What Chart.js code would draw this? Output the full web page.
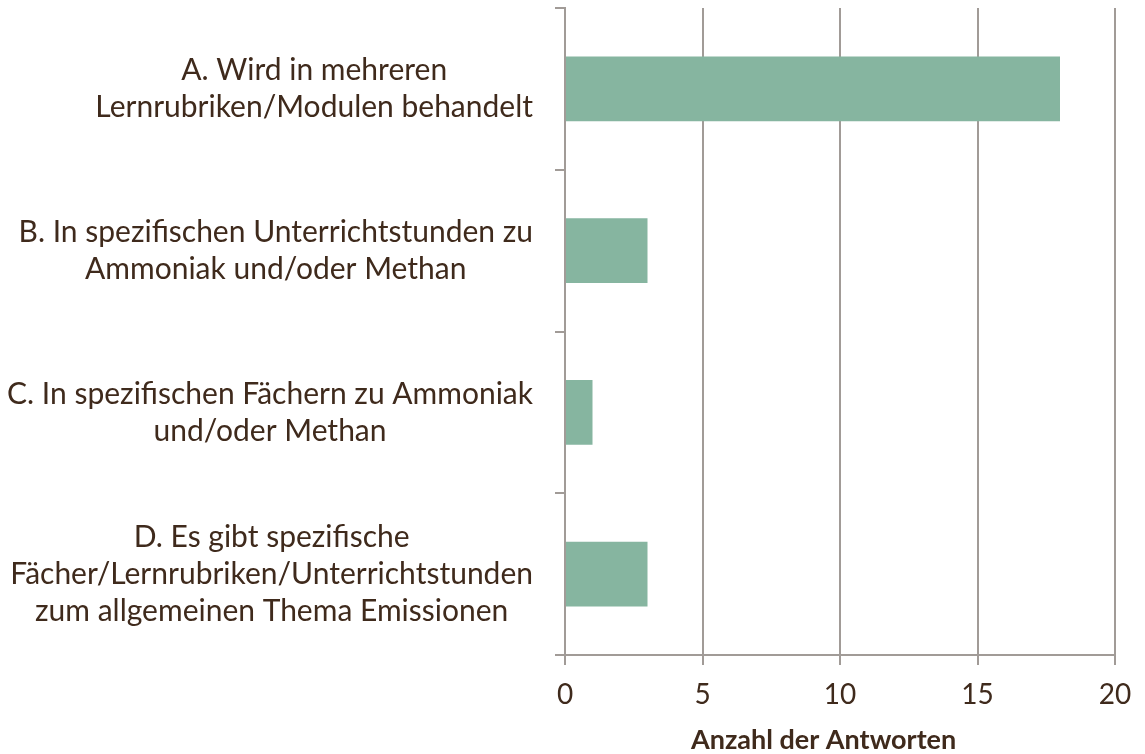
<!DOCTYPE html>
<html><head><meta charset="utf-8">
<script src="https://cdn.jsdelivr.net/npm/chart.js@4/dist/chart.umd.min.js"></script>
<style>html,body{margin:0;padding:0;background:#fff;}#wrap{width:1145px;height:754px;}</style>
</head><body><div id="wrap"><canvas id="c" width="1145" height="754"></canvas></div>
<script>
const categories = [
  ["A. Wird in mehreren", "Lernrubriken/Modulen behandelt"],
  ["B. In spezifischen Unterrichtstunden zu", "Ammoniak und/oder Methan"],
  ["C. In spezifischen Fächern zu Ammoniak", "und/oder Methan"],
  ["D. Es gibt spezifische", "Fächer/Lernrubriken/Unterrichtstunden", "zum allgemeinen Thema Emissionen"]
];
const answers = [18, 3, 1, 3];
const axisTitle = "Anzahl der Antworten";
const xTicks = [0, 5, 10, 15, 20];

const TEXT = '#3f2a1c';
const GRID = '#a19b97';
const FONT = 'Lato';

const labelPlugin = {
  id: 'catLabels',
  afterDraw(chart) {
    const ctx = chart.ctx;
    const ys = chart.scales.y;
    ctx.save();
    ctx.font = '30px ' + FONT;
    ctx.fillStyle = TEXT;
    ctx.textAlign = 'center';
    ctx.textBaseline = 'middle';
    const lh = 37;
    const rightEdge = ys.right - 32;
    chart.data.labels.forEach((lines, i) => {
      const cy = ys.getPixelForValue(i);
      const w = Math.max(...lines.map(l => ctx.measureText(l).width));
      const cx = rightEdge - w / 2;
      lines.forEach((l, j) => {
        ctx.fillText(l, cx, cy + (j - (lines.length - 1) / 2) * lh);
      });
    });
    ctx.restore();
  }
};

new Chart(document.getElementById('c'), {
  type: 'bar',
  data: {
    labels: categories,
    datasets: [{
      data: answers,
      backgroundColor: '#86b5a0',
      borderWidth: 0,
      barPercentage: 0.4,
      categoryPercentage: 1.0
    }]
  },
  options: {
    indexAxis: 'y',
    responsive: false,
    animation: false,
    layout: { padding: { top: 8, right: 30, left: 0, bottom: 0 } },
    plugins: { legend: { display: false }, tooltip: { enabled: false } },
    scales: {
      y: {
        type: 'category',
        grid: { offset: true, drawOnChartArea: false, tickLength: 10, color: GRID, lineWidth: 2 },
        border: { display: true, color: GRID, width: 2 },
        ticks: { display: false },
        afterFit: s => { s.width = 565; }
      },
      x: {
        min: 0, max: 20,
        afterBuildTicks: s => { s.ticks = xTicks.map(v => ({ value: v })); },
        grid: { color: GRID, lineWidth: 2, tickLength: 10 },
        border: { display: true, color: GRID, width: 2 },
        ticks: { color: TEXT, font: { family: FONT, size: 28 }, padding: 13 },
        title: {
          display: true,
          text: axisTitle + '\u00a0\u00a0\u00a0\u00a0\u00a0',
          color: TEXT,
          font: { family: FONT, size: 27, weight: 'bold', lineHeight: 1 },
          padding: { top: 0, bottom: 0 }
        },
        afterFit: s => { s.height = 99; }
      }
    }
  },
  plugins: [labelPlugin]
});
</script>
</body></html>
